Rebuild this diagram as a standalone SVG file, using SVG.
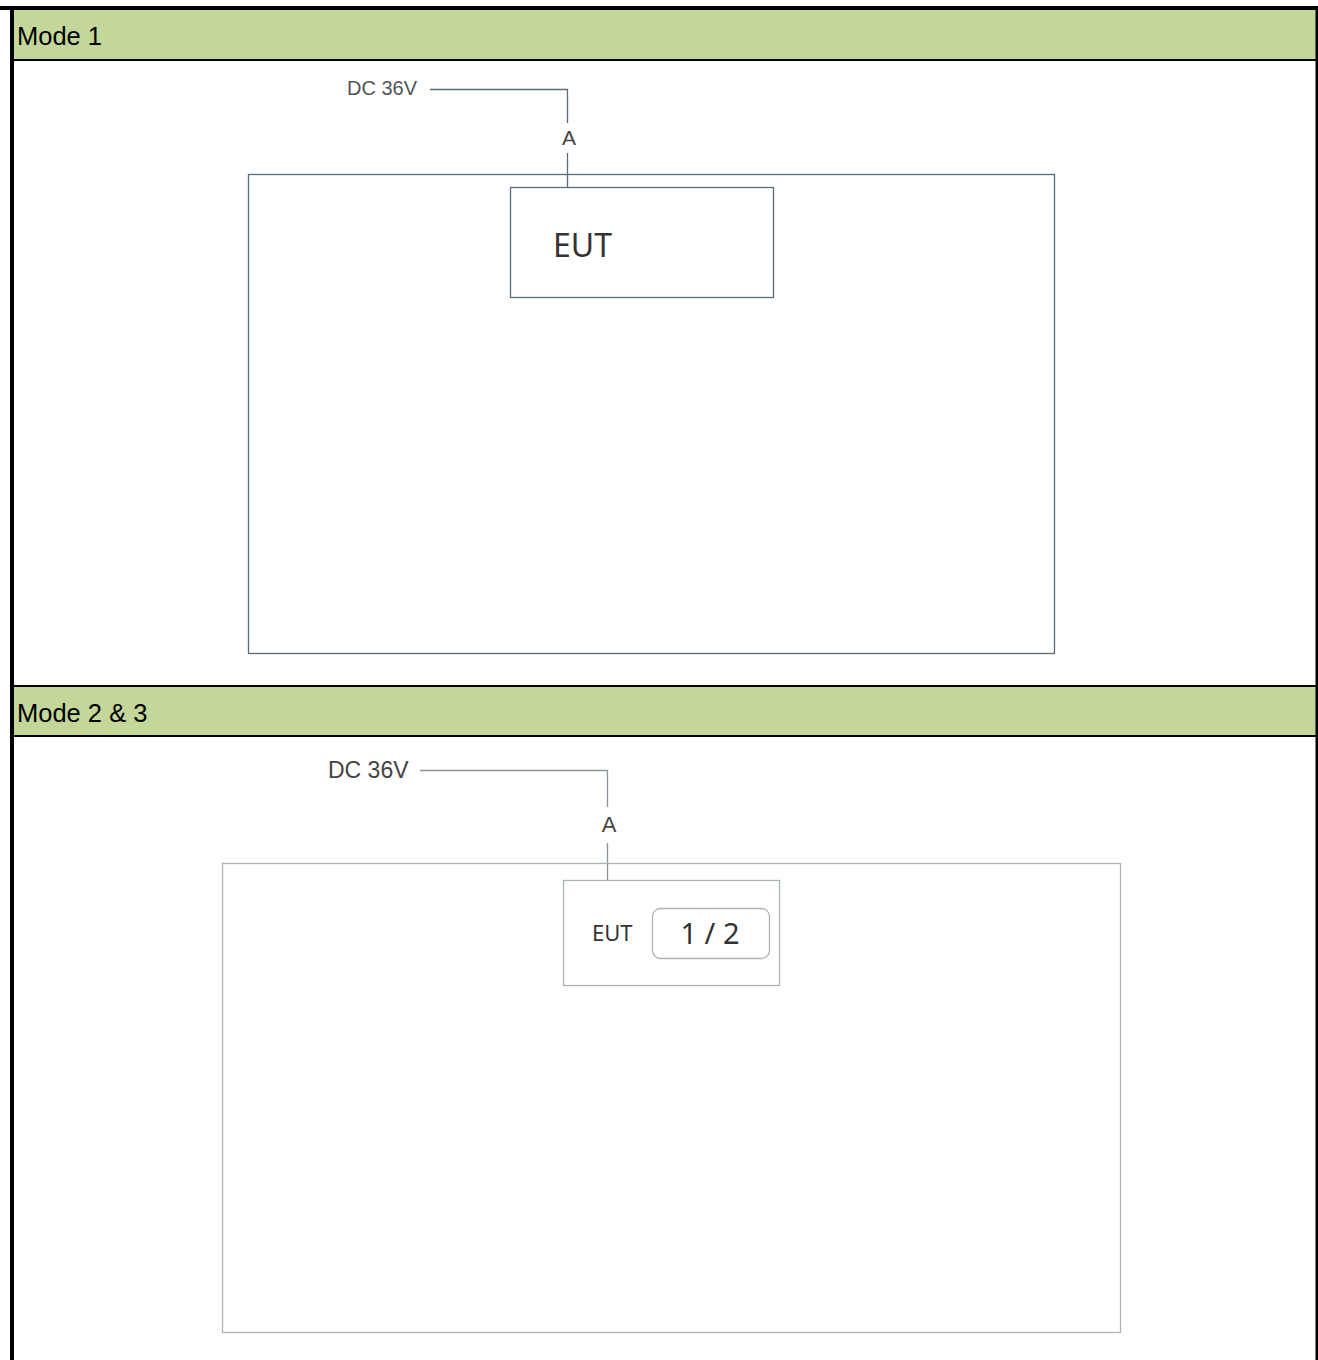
<svg xmlns="http://www.w3.org/2000/svg" width="1318" height="1360" viewBox="0 0 1318 1360">
<style>
.hdr{fill:#c4d79b}
.hdrtxt{font-family:"Liberation Sans",Arial,sans-serif;font-size:25.5px;fill:#000}
.lbl{font-family:"Noto Sans","Open Sans",sans-serif;fill:#333}
.sans{font-family:"Liberation Sans",Arial,sans-serif}
.s1{fill:none;stroke:#5c6b7a;stroke-width:1.3}
.s2{fill:none;stroke:#aab2ba;stroke-width:1.3}
</style>
<rect x="0" y="0" width="1318" height="1360" fill="#fff"/>
<g id="frame">
<rect class="hdr" x="12" y="8" width="1305" height="52"/>
<rect class="hdr" x="12" y="686" width="1305" height="50"/>
<line x1="0" y1="8" x2="1318" y2="8" stroke="#000" stroke-width="4"/>
<line x1="12" y1="60" x2="1318" y2="60" stroke="#000" stroke-width="2"/>
<line x1="12" y1="686" x2="1318" y2="686" stroke="#000" stroke-width="2"/>
<line x1="12" y1="736" x2="1318" y2="736" stroke="#000" stroke-width="2"/>
<line x1="12" y1="6" x2="12" y2="1360" stroke="#000" stroke-width="4"/>
<line x1="1317" y1="6" x2="1317" y2="1360" stroke="#000" stroke-width="3"/>
<text class="hdrtxt" x="17" y="45">Mode 1</text>
<text class="hdrtxt" x="17" y="722">Mode 2 &amp; 3</text>
</g>
<g id="chamber1"><rect class="s1" x="248.5" y="174.5" width="806" height="479"/></g>
<g id="eut1"><rect class="s1" x="510.5" y="187.5" width="263" height="110"/>
<text class="lbl" x="553" y="257" font-size="32" fill="#222">EUT</text></g>
<g id="dc1"><text class="sans" x="347" y="95" font-size="20" fill="#555">DC 36V</text></g>
<g id="connectors">
<polyline class="s1" points="430,89.5 567.5,89.5 567.5,123"/>
<line class="s1" x1="567.5" y1="153" x2="567.5" y2="187"/>
<text class="sans" x="569" y="145" font-size="21" text-anchor="middle" fill="#444">A</text>
<polyline class="s2" points="420,770.5 607.5,770.5 607.5,807" style="stroke:#8a939c"/>
<line class="s2" x1="607.5" y1="843" x2="607.5" y2="880" style="stroke:#8a939c"/>
<text class="sans" x="609" y="832" font-size="22" text-anchor="middle" fill="#444">A</text>
</g>
<g id="chamber2"><rect class="s2" x="222.5" y="863.5" width="898" height="469"/></g>
<g id="eut2"><rect class="s2" x="563.5" y="880.5" width="216" height="105"/>
<text class="lbl" x="592" y="941" font-size="22" fill="#333">EUT</text></g>
<g id="mode"><rect class="s2" x="652.5" y="908.5" width="117" height="50" rx="8"/>
<text class="lbl" x="710" y="944" font-size="29" text-anchor="middle" fill="#333">1 / 2</text></g>
<g id="dc2"><text class="sans" x="328" y="778" font-size="23" fill="#444">DC 36V</text></g>
</svg>
